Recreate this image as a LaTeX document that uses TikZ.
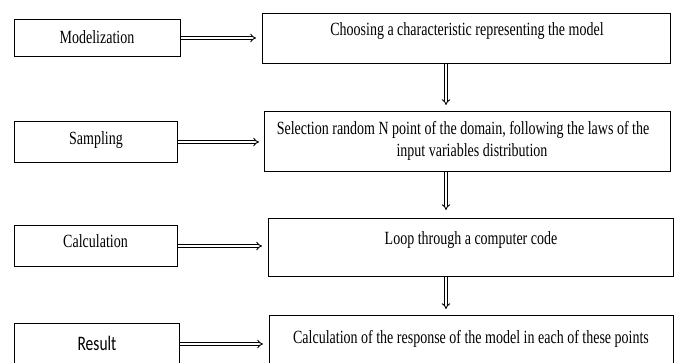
\documentclass[tikz,border=0pt]{standalone}
\usepackage{fontspec}
\setmainfont{Liberation Serif}
\newfontfamily\calib{Carlito}
\usepackage{graphicx}
\usetikzlibrary{arrows.meta}
\newcommand{\vstretch}[1]{\scalebox{1}[1.33]{#1}}
\begin{document}
\begin{tikzpicture}[x=1pt,y=-1pt,
  box/.style={draw, line width=1pt, inner sep=0pt},
  txt/.style={inner sep=0pt, font=\fontsize{14}{16}\selectfont},
  sans/.style={inner sep=0pt, font=\calib\fontsize{15.5}{17}\selectfont},
  dbl/.style={double, double distance=2pt, line width=0.9pt, -{Implies[length=2.5pt]}}
]
\useasboundingbox (0,0) rectangle (675,363);
\clip (0,0) rectangle (675,363);
% left boxes
\node[box, minimum width=166pt, minimum height=37pt] (m) at (97.5,38) {};
\node[box, minimum width=163pt, minimum height=41pt] (s) at (96,142) {};
\node[box, minimum width=163pt, minimum height=41pt] (ca) at (96,246) {};
\node[box, minimum width=165pt, minimum height=41pt] (r) at (97,344) {};
% right boxes
\node[box, minimum width=408pt, minimum height=50pt] (c1) at (466.5,38.5) {};
\node[box, minimum width=406pt, minimum height=60pt] (c2) at (467.5,141.5) {};
\node[box, minimum width=405pt, minimum height=58pt] (c3) at (471,247.5) {};
\node[box, minimum width=404pt, minimum height=60pt] (c4) at (471.5,345.5) {};
% texts
\node[txt] (tm) at (97,37) {\vstretch{Modelization}};
\node[txt] (ts) at (96,140) {\vstretch{Sampling}};
\node[txt] (tca) at (95.5,241.5) {\vstretch{Calculation}};
\node[sans] (tr) at (97,343) {\vstretch{Result}};
\node[txt] (tc1) at (467,31) {\vstretch{Choosing a characteristic representing the model}};
\node[txt] (tc2a) at (463,130) {\vstretch{Selection random N point of the domain, following the laws of the}};
\node[txt] (tc2b) at (472,152) {\vstretch{input variables distribution}};
\node[txt] (tc3) at (471,240) {\vstretch{Loop through a computer code}};
\node[txt] (tc4) at (471,339) {\vstretch{Calculation of the response of the model in each of these points}};
% horizontal arrows
\draw[dbl, shorten >=6pt] (m.east) -- (m.east -| c1.west);
\draw[dbl, shorten >=5pt] (s.east) -- (s.east -| c2.west);
\draw[dbl, shorten >=6pt] (ca.east) -- (ca.east -| c3.west);
\draw[dbl, shorten >=6pt] (r.east) -- (r.east -| c4.west);
% vertical arrows
\coordinate (vx) at (446,0);
\draw[dbl, shorten >=6pt] (vx |- c1.south) -- (vx |- c2.north);
\draw[dbl, shorten >=8pt] (vx |- c2.south) -- (vx |- c3.north);
\draw[dbl, shorten >=6pt] (vx |- c3.south) -- (vx |- c4.north);
\end{tikzpicture}
\end{document}
